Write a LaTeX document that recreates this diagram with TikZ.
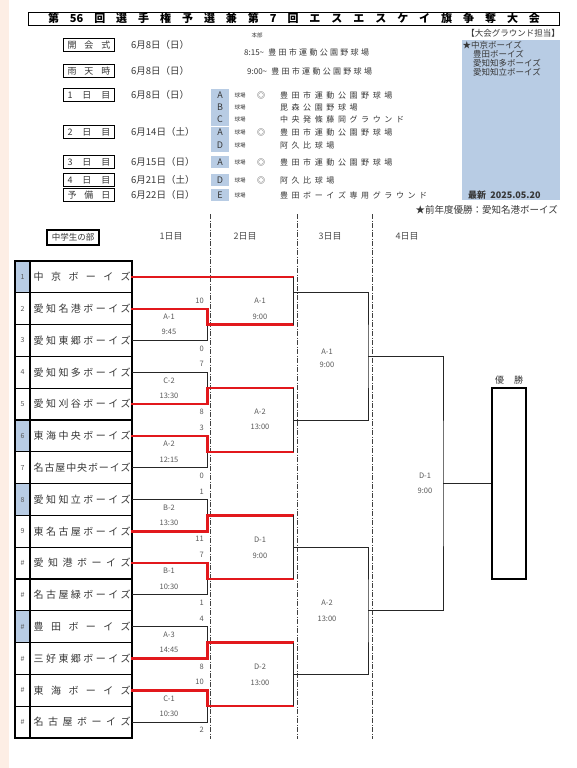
\documentclass[tikz,border=0pt]{standalone}
\usepackage{fontspec}
\setmainfont{Noto Sans CJK JP}
\definecolor{gblue}{RGB}{184,204,228}
\definecolor{wred}{RGB}{226,24,28}
\definecolor{peach}{RGB}{253,238,229}
\definecolor{txt}{RGB}{55,55,55}
\newcommand\myfs[1]{\fontsize{#1}{#1}\selectfont}
\newdimen\chw
\def\fixw#1#2{\chw=#1\relax\fixwloop#2\relax}
\def\fixwloop#1{\ifx\relax#1\else\hbox to\chw{\hss#1\hss}\expandafter\fixwloop\fi}
\def\spread#1#2{\hbox to #1{\spreadloop#2\relax}}
\def\spreadloop#1{#1\futurelet\mynext\spreadcheck}
\def\spreadcheck{\ifx\mynext\relax\expandafter\mygobble\else\hfil\expandafter\spreadloop\fi}
\def\mygobble#1{}
\def\spreadx#1#2{\expandafter\spreadxx\expandafter{#2}{#1}}
\def\spreadxx#1#2{\spread{#2}{#1}}
\begin{document}
\begin{tikzpicture}[x=1pt,y=-1pt,
  blk/.style={draw=black!85, line width=1pt},
  win/.style={draw=wred, line width=2.4pt, line cap=rect},
  ddot/.style={draw=black!75, line width=0.8pt, dash pattern=on 5pt off 1.5pt on 1pt off 1.5pt},
  tbl/.style={draw=black, line width=1.2pt},
  lbl/.style={font=\myfs{7.5}, text=black!65, inner sep=0pt},
  hdr/.style={font=\myfs{9}, text=black!70, inner sep=0pt},
  dbox/.style={draw=black, line width=1.2pt, minimum width=51pt, minimum height=12.5pt, inner sep=0pt, font=\myfs{9}, text=txt},
  date/.style={font=\myfs{9.5}, text=txt, inner sep=0pt, anchor=west},
  ven/.style={font=\myfs{8}, text=txt, inner sep=0pt, anchor=west},
  let/.style={font=\myfs{9}, text=txt, inner sep=0pt},
  tiny/.style={font=\myfs{5.5}, text=txt, inner sep=0pt},
  dmark/.style={font=\myfs{8}, text=txt, inner sep=0pt},
  side/.style={font=\myfs{8.5}, text=txt, inner sep=0pt, anchor=west},
  numlbl/.style={font=\myfs{7}, text=black!65, inner sep=0pt},
  namelbl/.style={font=\myfs{10}, text=txt, inner sep=0pt, anchor=west},
  champ/.style={draw=black, line width=1.8pt, minimum width=34pt, minimum height=191pt, inner sep=0pt}
]
\useasboundingbox (0,0) rectangle (576,768);
\fill[white] (0,0) rectangle (576,768);
\fill[peach] (0,0) rectangle (9,768);

% ---------- header ----------
\node[draw=black, line width=1pt, minimum width=531pt, minimum height=13pt, inner sep=0pt,
      font=\myfs{11}\bfseries] (title) at (294,18.7)
  {\spread{492pt}{第{56}回選手権予選兼第7回エスエスケイ旗争奪大会}};
\node[tiny] (hq) at (257,35) {本部};

\fill[gblue] (462,40) rectangle (560,200);
\node[font=\myfs{8.5}, text=txt, inner sep=0pt, anchor=east] (gtitle) at (560,33.5) {【大会グラウンド担当】};
\node[side] (g1) at (462.5,45) {★中京ボーイズ};
\node[side] (g2) at (473,54) {豊田ボーイズ};
\node[side] (g3) at (473,63) {愛知知多ボーイズ};
\node[side] (g4) at (473,72) {愛知知立ボーイズ};
\node[font=\myfs{9}\bfseries, text=txt, inner sep=0pt, anchor=west] (upd) at (468,195) {最新\ \ 2025.05.20};
\node[font=\myfs{9.5}, text=txt, inner sep=0pt, anchor=east] (prev) at (558,209.5) {★前年度優勝：愛知名港ボーイズ};

% label boxes
\node[dbox] (k1) at (89,45) {\spread{43pt}{開会式}};
\node[dbox] (k2) at (89,71) {\spread{43pt}{雨天時}};
\node[dbox] (k3) at (89,95) {\spread{43pt}{1日目}};
\node[dbox] (k4) at (89,132) {\spread{43pt}{2日目}};
\node[dbox] (k5) at (89,162) {\spread{43pt}{3日目}};
\node[dbox] (k6) at (89,180) {\spread{43pt}{4日目}};
\node[dbox] (k7) at (89,195) {\spread{43pt}{予備日}};
% dates
\node[date] (d1) at (131,45) {6月8日（日）};
\node[date] (d2) at (131,71) {6月8日（日）};
\node[date] (d3) at (131,95) {6月8日（日）};
\node[date] (d4) at (131,132) {6月14日（土）};
\node[date] (d5) at (131,162) {6月15日（日）};
\node[date] (d6) at (131,180) {6月21日（土）};
\node[date] (d7) at (131,195) {6月22日（日）};
% opening / rain lines
\node[ven] (o1) at (244,52.5) {8:15\char"7E\hspace{3pt}\fixw{10.3pt}{豊田市運動公園野球場}};
\node[ven] (o2) at (247,71) {9:00\char"7E\hspace{3pt}\fixw{10.3pt}{豊田市運動公園野球場}};
% ground cells
\fill[gblue] (211,89) rectangle (229,125.5);
\fill[gblue] (211,126.5) rectangle (229,152);
\fill[gblue] (211,156) rectangle (229,168);
\fill[gblue] (211,174) rectangle (229,186);
\fill[gblue] (211,189) rectangle (229,201);
\foreach \k/\yy/\L/\mk/\V in {1/95/A/1/豊田市運動公園野球場, 2/107/B/0/毘森公園野球場, 3/119/C/0/中央発條藤岡グラウンド,
  4/132/A/1/豊田市運動公園野球場, 5/145/D/0/阿久比球場, 6/162/A/1/豊田市運動公園野球場,
  7/180/D/1/阿久比球場, 8/195/E/0/豊田ボーイズ専用グラウンド}{
  \node[let] (gl\k) at (220,\yy) {\L};
  \node[tiny] (gk\k) at (240,\yy) {球場};
  \ifnum\mk=1 \node[dmark] (gm\k) at (261,\yy) {◎};\fi
  \node[ven] (gv\k) at (278,\yy) {\expandafter\fixw\expandafter{\expandafter1\expandafter1\expandafter.\expandafter6\expandafter p\expandafter t\expandafter}\expandafter{\V}};
}

% ---------- bracket headers ----------
\node[draw=black, line width=1.3pt, minimum width=52pt, minimum height=15pt, inner sep=0pt,
      font=\myfs{8.5}, text=txt] (cat) at (73,237.5) {中学生の部};
\node[hdr] (h1) at (171,236) {1日目};
\node[hdr] (h2) at (245,236) {2日目};
\node[hdr] (h3) at (330,236) {3日目};
\node[hdr] (h4) at (407,236) {4日目};

\coordinate (dd1t) at (210.5,214); \coordinate (dd1b) at (210.5,739);
\coordinate (dd2t) at (297,214); \coordinate (dd2b) at (297,739);
\coordinate (dd3t) at (372,214); \coordinate (dd3b) at (372,739);
\draw[ddot] (dd1t) -- (dd1b);
\draw[ddot] (dd2t) -- (dd2b);
\draw[ddot] (dd3t) -- (dd3b);

% ---------- team table ----------
\foreach \i in {1,6,8,12}{
  \fill[gblue] (15,{261+(\i-1)*31.8}) rectangle (30,{261+\i*31.8});
}
\draw[tbl] (15,261) rectangle (132,738);
\draw[tbl] (30,261) -- (30,738);
\foreach \i in {1,...,14}{
  \draw[tbl] (15,{261+\i*31.8}) -- (132,{261+\i*31.8});
}
\foreach \i/\nb/\nm in {1/1/中京ボーイズ, 2/2/愛知名港ボーイズ, 3/3/愛知東郷ボーイズ, 4/4/愛知知多ボーイズ,
  5/5/愛知刈谷ボーイズ, 6/6/東海中央ボーイズ, 7/7/名古屋中央ボーイズ, 8/8/愛知知立ボーイズ,
  9/9/東名古屋ボーイズ, 10/\#/愛知港ボーイズ, 11/\#/名古屋緑ボーイズ, 12/\#/豊田ボーイズ,
  13/\#/三好東郷ボーイズ, 14/\#/東海ボーイズ, 15/\#/名古屋ボーイズ}{
  \pgfmathsetmacro\yy{261+(\i-0.5)*31.8}
  \node[numlbl] (num\i) at (22.5,\yy) {\nb};
  \node[namelbl] (tm\i) at (33.5,\yy) {\spreadx{97pt}{\nm}};
  \coordinate (e\i) at (132,\yy);
}

% ---------- round 1 ----------
\foreach \t/\b/\w/\m/\lab/\tm/\st/\sb in {2/3/2/1/A-1/9:45/10/0, 4/5/5/2/C-2/13:30/7/8,
  6/7/6/3/A-2/12:15/3/0, 8/9/9/4/B-2/13:30/1/11, 10/11/10/5/B-1/10:30/7/1,
  12/13/13/6/A-3/14:45/4/8, 14/15/14/7/C-1/10:30/10/2}{
  \pgfmathsetmacro\yt{261+(\t-0.5)*31.8}
  \pgfmathsetmacro\yb{261+(\b-0.5)*31.8}
  \pgfmathsetmacro\ym{(\yt+\yb)/2}
  \coordinate (m\m) at (207.5,\ym);
  \coordinate (w\m) at (293,\ym);
  \draw[blk] (e\t) -| (m\m) |- (e\b);
  \draw[win] (e\w) -| (m\m) -- (w\m);
  \node[lbl] (la\m) at (169,{\yt+8}) {\lab};
  \node[lbl] (lt\m) at (169,{\yt+23.5}) {\tm};
  \node[lbl, anchor=east] (sa\m) at (204,{\yt-8}) {\st};
  \node[lbl, anchor=east] (sb\m) at (204,{\yb+8}) {\sb};
}

% ---------- round 2 ----------
\coordinate (w0) at (293,276.9);
\draw[win] (e1) -- (w0);
\draw[blk] (w0) -- (w1);
\draw[blk] (w2) -- (w3);
\draw[blk] (w4) -- (w5);
\draw[blk] (w6) -- (w7);
\node[lbl] (r2a) at (260,301) {A-1};   \node[lbl] (r2at) at (260,316.7) {9:00};
\node[lbl] (r2b) at (260,411.7) {A-2}; \node[lbl] (r2bt) at (260,427) {13:00};
\node[lbl] (r2c) at (260,540) {D-1};   \node[lbl] (r2ct) at (260,555.7) {9:00};
\node[lbl] (r2d) at (260,667) {D-2};   \node[lbl] (r2dt) at (260,683) {13:00};

% ---------- round 3 ----------
\coordinate (s1) at (293,292.3); \coordinate (s2) at (293,420);
\coordinate (u1) at (368,356.2);
\draw[blk] (s1) -| (u1) |- (s2);
\coordinate (s3) at (293,547.2); \coordinate (s4) at (293,674.4);
\coordinate (u2) at (368,610.8);
\draw[blk] (s3) -| (u2) |- (s4);
\node[lbl] (r3a) at (327,351.5) {A-1}; \node[lbl] (r3at) at (327,365) {9:00};
\node[lbl] (r3b) at (327,603) {A-2};   \node[lbl] (r3bt) at (327,618.5) {13:00};

% ---------- round 4 / final ----------
\coordinate (v1) at (443,483.5);
\draw[blk] (u1) -| (v1) |- (u2);
\node[lbl] (r4a) at (425,476) {D-1}; \node[lbl] (r4at) at (425,491) {9:00};
\node[champ] (ch) at (509,483.5) {};
\draw[blk] (v1) -- (ch.west);
\node[font=\myfs{9}, text=txt, inner sep=0pt] (yusho) at (509,380) {\spread{28pt}{優勝}};
\end{tikzpicture}
\end{document}
